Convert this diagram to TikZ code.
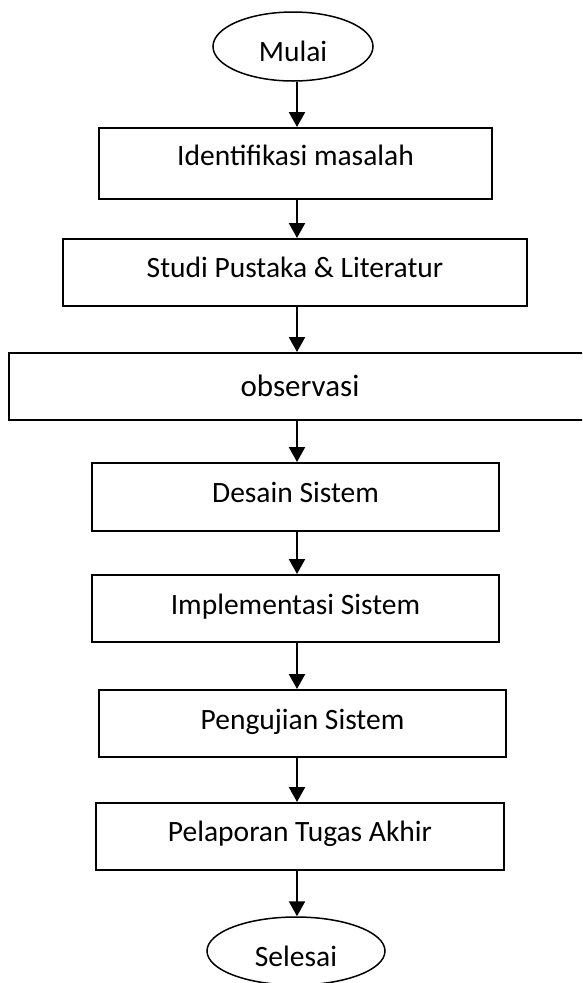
\documentclass[tikz,border=0pt]{standalone}
\usepackage{fontspec}
\setmainfont{Carlito}
\usepackage{tikz}
\usetikzlibrary{arrows.meta,shapes.geometric}

\begin{document}
\begin{tikzpicture}[x=1pt, y=-1pt,
  every node/.style={font=\fontsize{29.5}{32}\selectfont},
  box/.style={draw=black, line width=2pt, rectangle, inner sep=0pt, minimum height=67pt, text height=18.3pt, text depth=8pt},
  term/.style={draw=black, line width=1.5pt, ellipse, inner sep=0pt, minimum height=69pt, text height=29pt, text depth=0pt},
  flow/.style={line width=2.4pt, -{Triangle[length=15pt, width=16pt]}}
]
  \clip (0,0) rectangle (582,983);
  \coordinate (axis) at (297,0);

  % start / end
  \node[term, minimum width=160pt] (mulai) at (293,46.5) {Mulai};
  \node[term, minimum width=178pt, minimum height=68pt, text height=31.3pt] (selesai) at (296,951) {Selesai};

  % steps
  \node[box, minimum width=393pt, minimum height=71pt, text depth=14pt] (ident) at (295.5,163.5) {Identifikasi masalah};
  \node[box, minimum width=464pt] (studi) at (295,272.5) {Studi Pustaka \& Literatur};
  \node[box, minimum width=582pt, font=\fontsize{31}{34}\selectfont, text height=19.6pt, text depth=0pt] (obs) at (300,386.5) {observasi};
  \node[box, minimum width=407pt, minimum height=68pt, text depth=7pt] (desain) at (295.5,497) {Desain Sistem};
  \node[box, minimum width=407pt, text depth=7pt] (impl) at (295.5,608.5) {Implementasi Sistem};
  \node[box, minimum width=407pt, text depth=6pt] (uji) at (302.5,723.5) {Pengujian Sistem};
  \node[box, minimum width=408pt, text depth=9pt] (lapor) at (300,836.5) {Pelaporan Tugas Akhir};

  % arrows
  \draw[flow] (mulai.south -| axis) -- (ident.north -| axis);
  \draw[flow] (ident.south -| axis) -- (studi.north -| axis);
  \draw[flow] (studi.south -| axis) -- (obs.north -| axis);
  \draw[flow] (obs.south -| axis) -- (desain.north -| axis);
  \draw[flow] (desain.south -| axis) -- (impl.north -| axis);
  \draw[flow] (impl.south -| axis) -- (uji.north -| axis);
  \draw[flow] (uji.south -| axis) -- (lapor.north -| axis);
  \draw[flow] (lapor.south -| axis) -- (selesai.north -| axis);
\end{tikzpicture}
\end{document}
